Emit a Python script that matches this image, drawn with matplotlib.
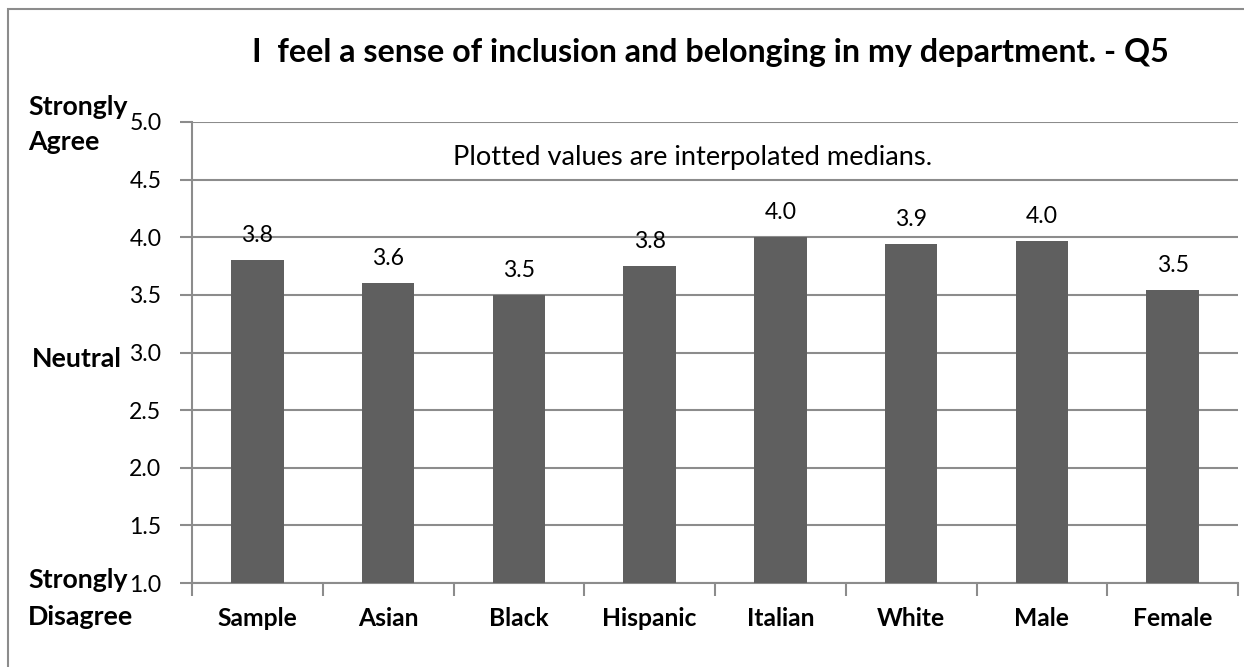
import matplotlib
matplotlib.use('Agg')
import matplotlib.pyplot as plt
from matplotlib.patches import Rectangle

# Дані графіка
categories = ['Sample', 'Asian', 'Black', 'Hispanic', 'Italian', 'White', 'Male', 'Female']
medians = [3.80, 3.60, 3.50, 3.75, 4.00, 3.94, 3.97, 3.54]
value_labels = ['3.8', '3.6', '3.5', '3.8', '4.0', '3.9', '4.0', '3.5']
y_ticks = [1.0, 1.5, 2.0, 2.5, 3.0, 3.5, 4.0, 4.5, 5.0]
title = 'I  feel a sense of inclusion and belonging in my department. - Q5'
note = 'Plotted values are interpolated medians.'

plt.rcParams['font.family'] = ['Lato', 'DejaVu Sans']

W, H = 1244, 667
fig = plt.figure(figsize=(W / 100, H / 100), dpi=100)
renderer = fig.canvas.get_renderer()


def fit_size(s, target_px, **kw):
    # підбір розміру шрифту під потрібну ширину в пікселях
    t = fig.text(0, 0, s, fontsize=20, **kw)
    w = t.get_window_extent(renderer).width
    t.remove()
    return 20 * target_px / w


def ftext(x, y, s, **kw):
    # текст у піксельних координатах зображення (y зверху)
    return fig.text(x / W, 1 - y / H, s, **kw)


num_size = fit_size('5.0', 32)
cat_size = fit_size('Sample', 80, fontweight='bold')
side_size = fit_size('Strongly', 100, fontweight='bold')
title_size = fit_size(title, 918, fontweight='bold')
note_size = fit_size(note, 482)

ax = fig.add_axes([192 / W, 1 - 583 / H, (1238 - 192) / W, (583 - 122) / H])

grid_col = '#8c8c8c'
x = list(range(len(categories)))
ax.bar(x, medians, width=0.4, color='#5f5f5f', zorder=3)

for xi, v, lab in zip(x, medians, value_labels):
    ax.annotate(lab, (xi, v), xytext=(0, 13), textcoords='offset points',
                ha='center', va='baseline', fontsize=num_size, color='black', zorder=4)

ax.set_xlim(-0.5, len(categories) - 0.5)
ax.set_ylim(1.0, 5.0)
ax.set_yticks(y_ticks)
ax.set_yticklabels([f'{t:.1f}' for t in y_ticks], fontsize=num_size)
ax.yaxis.grid(True, color=grid_col, linewidth=1.5, zorder=0)
ax.tick_params(axis='y', length=9, width=1.5, color=grid_col, pad=13)

ax.set_xticks(x)
ax.set_xticklabels([])
ax.set_xticks([i - 0.5 for i in range(len(categories) + 1)], minor=True)
ax.tick_params(axis='x', which='major', length=0)
ax.tick_params(axis='x', which='minor', length=9, width=1.5, color=grid_col)
for xi, c in zip(x, categories):
    ax.text(xi, (583 - 626) / 461, c, transform=ax.get_xaxis_transform(),
            ha='center', va='baseline', fontsize=cat_size, fontweight='bold')

for s in ['top', 'right']:
    ax.spines[s].set_visible(False)
for s in ['left', 'bottom']:
    ax.spines[s].set_color(grid_col)
    ax.spines[s].set_linewidth(1.5)

# Підписи шкали зліва
side = dict(fontsize=side_size, fontweight='bold', ha='left', va='baseline')
ftext(28, 115, 'Strongly', **side)
ftext(28, 150, 'Agree', **side)
ftext(32, 367, 'Neutral', **side)
ftext(28, 588, 'Strongly', **side)
ftext(28, 625, 'Disagree', **side)

ftext(252, 62, title, fontsize=title_size, fontweight='bold', ha='left', va='baseline')
ftext(453, 165, note, fontsize=note_size, ha='left', va='baseline')

# Рамка навколо діаграми
fig.patches.append(Rectangle((8 / W, -0.1), 1.2, 1 - 9 / H + 0.1, transform=fig.transFigure,
                             fill=False, edgecolor=grid_col, linewidth=1.5))

fig.savefig('out.png', dpi=100)
